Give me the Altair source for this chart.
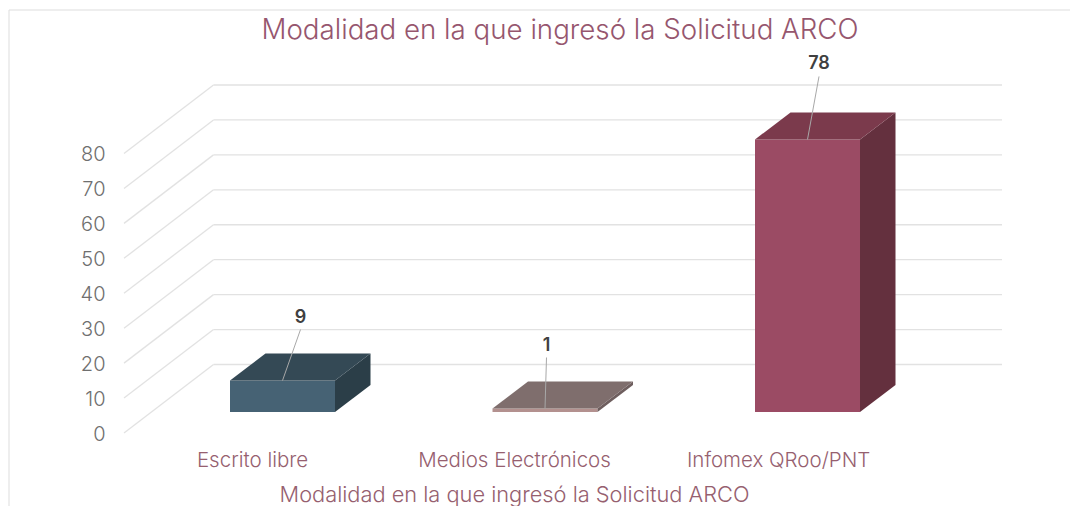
import altair as alt
import pandas as pd

# ---- chart values
categories = ["Escrito libre", "Medios Electrónicos", "Infomex QRoo/PNT"]
values = [9, 1, 78]
front_colors = ["#466274", "#b3918f", "#9b4b64"]
top_colors = ["#344955", "#7f6e6d", "#7b3a4c"]
side_colors = ["#2b3e48", "#6e5e5e", "#64303e"]
ticks = [0, 10, 20, 30, 40, 50, 60, 70, 80]
title_text = "Modalidad en la que ingresó la Solicitud ARCO"

# ---- pseudo-3D projection, in data units
W, H = 1062, 498
PX_U = 262.5      # pixels per category step
PX_V = 3.494      # pixels per value unit
x_dom = [(8 - 282.5) / PX_U, (8 + W - 282.5) / PX_U]
y_dom = [(433 - 8 - H) / PX_V, (433 - 8) / PX_V]
half = 52.5 / PX_U
bar_dx, bar_dy = 35.5 / PX_U, 27.0 / PX_V
base = 21.0 / PX_V
wall_left, wall_right = (124 - 282.5) / PX_U, (1002 - 282.5) / PX_U
wall_x = (213.5 - 282.5) / PX_U
wall_dy = 68.5 / PX_V

faces = []
for i, v in enumerate(values):
    x0, x1 = i - half, i + half
    b, t = base, base + v
    for x, y, y2 in [(x0, t, b), (x1, t, b)]:
        faces.append(dict(face=f"{i}front", fill=front_colors[i], x=x, y=y, y2=y2))
    for x, y, y2 in [(x1, t, b), (x1 + bar_dx, t + bar_dy, b + bar_dy)]:
        faces.append(dict(face=f"{i}side", fill=side_colors[i], x=x, y=y, y2=y2))
    for x, y, y2 in [
        (x0, t, t),
        (x0 + bar_dx, t, t + bar_dy),
        (x1, t, t + bar_dy),
        (x1 + bar_dx, t + bar_dy, t + bar_dy),
    ]:
        faces.append(dict(face=f"{i}top", fill=top_colors[i], x=x, y=y, y2=y2))
faces = pd.DataFrame(faces)

grid = pd.DataFrame(
    dict(
        v=ticks,
        back=[t + wall_dy for t in ticks],
        x0=[wall_left] * len(ticks),
        x1=[wall_x] * len(ticks),
        x2=[wall_right] * len(ticks),
    )
)

label_dx = [18 / PX_U, 1.5 / PX_U, 11.5 / PX_U]
label_dy = [51 / PX_V, 51 / PX_V, 63 / PX_V]
labels = pd.DataFrame(
    dict(
        text=[str(v) for v in values],
        x=[i + dx for i, dx in enumerate(label_dx)],
        x0=[float(i) for i in range(3)],
        top=[base + v for v in values],
        y=[base + v + d for v, d in zip(values, label_dy)],
    )
)

X = alt.Scale(domain=x_dom, range=[0, W], nice=False, zero=False)
Y = alt.Scale(domain=y_dom, range=[H, 0], nice=False, zero=False)

cat_pos = [-0.116, 0.882, 1.888]
x_axis = alt.Axis(
    values=cat_pos,
    labelExpr="['Escrito libre','Medios Electrónicos','Infomex QRoo/PNT'][round(datum.value)]",
    offset=-(H - 442),
    domain=False,
    ticks=False,
    grid=False,
    labelFont="Inter",
    labelFontWeight=300,
    labelFontSize=20.5,
    labelColor="#96606f",
    labelPadding=0,
    labelLimit=400,
    title=title_text,
    titleFont="Inter",
    titleFontSize=21.8,
    titleFontWeight=300,
    titleColor="#96606f",
    titleLimit=800,
    titleX=506,
    titleY=44,
    titleBaseline="middle",
)
y_axis = alt.Axis(
    values=ticks,
    offset=-97,
    domain=False,
    ticks=False,
    grid=False,
    title=None,
    labelFont="Inter",
    labelFontWeight=300,
    labelFontSize=20,
    labelColor="#6f6f6f",
    labelPadding=0,
    labelOffset=1,
)

base_layer = alt.Chart(grid)
axes = base_layer.mark_rule(opacity=0).encode(
    x=alt.X("x0:Q", scale=X, axis=x_axis),
    y=alt.Y("v:Q", scale=Y, axis=y_axis),
)
diag = base_layer.mark_rule(color="#e2e2e2", strokeWidth=1.3).encode(
    x=alt.X("x0:Q", scale=X), x2="x1:Q", y=alt.Y("v:Q", scale=Y), y2="back:Q"
)
back = base_layer.mark_rule(color="#e2e2e2", strokeWidth=1.3).encode(
    x=alt.X("x1:Q", scale=X), x2="x2:Q", y=alt.Y("back:Q", scale=Y)
)
frame_top = alt.Chart(pd.DataFrame({"a": [0]})).mark_rule(color="#dddddd").encode(
    x=alt.value(1), x2=alt.value(W), y=alt.value(2)
)
frame_left = alt.Chart(pd.DataFrame({"a": [0]})).mark_rule(color="#dddddd").encode(
    x=alt.value(1), y=alt.value(2), y2=alt.value(H)
)
areas = alt.Chart(faces).mark_area(interpolate="linear", opacity=1).encode(
    x=alt.X("x:Q", scale=X),
    y=alt.Y("y:Q", scale=Y, stack=None),
    y2="y2:Q",
    color=alt.Color("fill:N", scale=None),
    detail="face:N",
)
leaders = alt.Chart(labels).mark_rule(color="#a8a8a8", strokeWidth=1).encode(
    x=alt.X("x0:Q", scale=X), x2="x:Q", y=alt.Y("top:Q", scale=Y), y2="y:Q"
)
texts = alt.Chart(labels).mark_text(
    font="Inter", fontSize=18, fontWeight=600, color="#404040", baseline="alphabetic", dy=-7
).encode(x=alt.X("x:Q", scale=X), y=alt.Y("y:Q", scale=Y), text="text:N")

chart = (
    alt.layer(frame_top, frame_left, axes, diag, back, areas, leaders, texts)
    .properties(
        width=W,
        height=H,
        padding=0,
        autosize=alt.AutoSizeParams(type="none"),
        title=alt.TitleParams(
            title_text,
            font="Inter",
            fontSize=27.7,
            fontWeight=300,
            color="#96566e",
            anchor="middle",
            offset=-37,
            dx=21,
        ),
    )
    .configure_view(stroke=None)
    .configure_axis(labelOverlap=False)
)

chart.save("out.html", embed_options={"renderer": "svg", "actions": False})
